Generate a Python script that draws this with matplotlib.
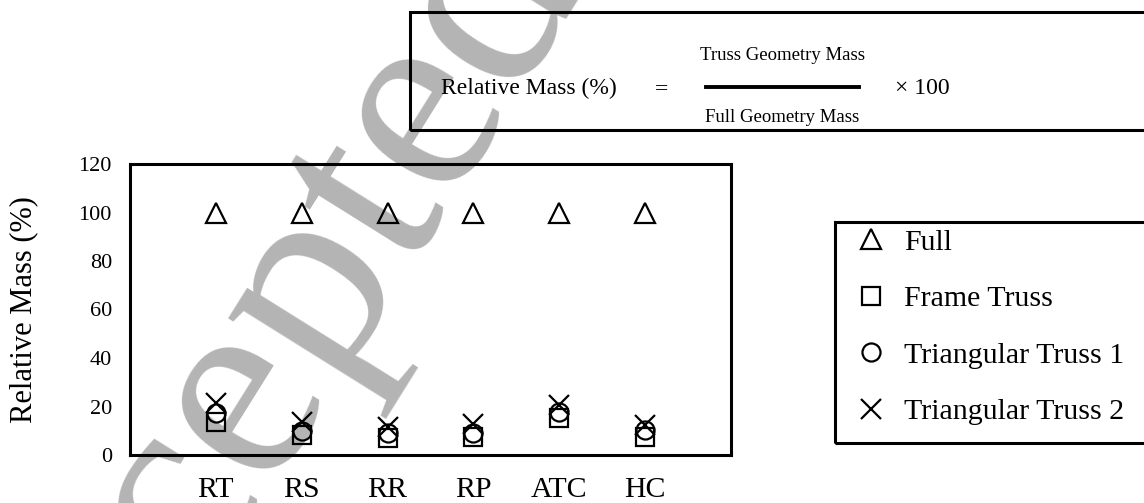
import matplotlib.pyplot as plt
from matplotlib.lines import Line2D
from matplotlib.patches import Rectangle

plt.rcParams['font.family'] = ['Liberation Serif', 'DejaVu Serif']

categories = ['RT', 'RS', 'RR', 'RP', 'ATC', 'HC']
full = [100, 100, 100, 100, 100, 100]
frame_truss = [13.5, 8.2, 7.0, 7.6, 15.2, 7.6]
tri_truss_1 = [17.3, 9.9, 9.0, 9.0, 17.9, 10.3]
tri_truss_2 = [21.4, 13.7, 11.7, 12.8, 20.6, 12.4]
y_ticks = [0, 20, 40, 60, 80, 100, 120]

W, H = 1144, 503


def fx(x):
    return x / W


def fy(y):
    return 1 - y / H


fig = plt.figure(figsize=(11.44, 5.03), dpi=100)
ax = fig.add_axes([fx(130), fy(455), fx(731) - fx(130), fy(164) - fy(455)])
ax.patch.set_facecolor('none')

# watermark
fig.text(fx(252), fy(392), 'Accepted', fontsize=200, color='#b4b4b4',
         rotation=58, ha='center', va='center', rotation_mode='anchor',
         zorder=-1)

xpos = list(range(1, len(categories) + 1))
ms = 14
ax.plot(xpos, full, ls='none', marker='^', ms=ms, mfc='none', mec='k', mew=1.6, label='Full')
ax.plot(xpos, frame_truss, ls='none', marker='s', ms=ms - 1, mfc='none', mec='k', mew=1.6, label='Frame Truss')
ax.plot(xpos, tri_truss_1, ls='none', marker='o', ms=ms - 1, mfc='none', mec='k', mew=1.6, label='Triangular Truss 1')
ax.plot(xpos, tri_truss_2, ls='none', marker='x', ms=ms, mec='k', mew=1.6, label='Triangular Truss 2')

ax.set_xlim(0, 7)
ax.set_ylim(0, 120)
ax.set_xticks(xpos)
ax.set_xticklabels(categories, fontsize=21.5)
ax.set_yticks(y_ticks)
ax.set_yticklabels([str(v) for v in y_ticks], fontsize=16)
ax.tick_params(axis='x', length=0, pad=16)
ax.tick_params(axis='y', length=0, pad=13)
for s in ax.spines.values():
    s.set_linewidth(2.2)
ax.set_ylabel('Relative Mass (%)', fontsize=22)
ax.yaxis.set_label_coords(-0.153, 0.5)

# legend
leg = ax.legend(loc='upper left', bbox_to_anchor=(fx(856), fy(229)),
                bbox_transform=fig.transFigure, frameon=False, fontsize=21.5,
                borderpad=0, handlelength=1.0, handletextpad=0.6,
                labelspacing=0.99, borderaxespad=0)
fig.add_artist(Rectangle((fx(835), fy(443)), fx(1160) - fx(835), fy(222) - fy(443),
                         transform=fig.transFigure, fill=False, lw=2.2, ec='k',
                         clip_on=False))

# formula box
fig.add_artist(Rectangle((fx(410), fy(130)), fx(1160) - fx(410), fy(12) - fy(130),
                         transform=fig.transFigure, fill=False, lw=2.2, ec='k',
                         clip_on=False))
fig.text(fx(441), fy(88), 'Relative Mass (%)', fontsize=17, ha='left', va='center')
fig.text(fx(661), fy(90), '=', fontsize=17, ha='center', va='center')
fig.text(fx(782), fy(56), 'Truss Geometry Mass', fontsize=13.5, ha='center', va='center')
fig.text(fx(782), fy(117), 'Full Geometry Mass', fontsize=13.5, ha='center', va='center')
fig.add_artist(Line2D([fx(706), fx(859)], [fy(87), fy(87)], transform=fig.transFigure,
                      color='k', lw=2.8))
fig.text(fx(895), fy(88), '\u00d7 100', fontsize=17, ha='left', va='center')

fig.savefig('out.png', dpi=100)
